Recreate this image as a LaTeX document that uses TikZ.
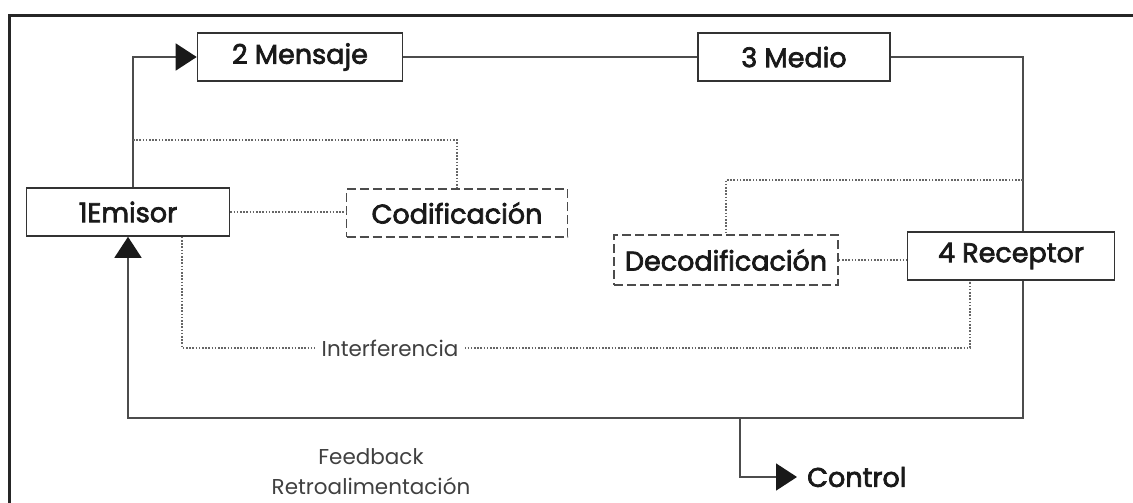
\documentclass[tikz,border=0pt]{standalone}
\usepackage{fontspec}
\setmainfont{Poppins}
\newfontfamily\labelfont{Poppins}[FakeBold=2.6]
\usetikzlibrary{arrows.meta}

\begin{document}
\begin{tikzpicture}[x=1pt,y=-1pt]
\tikzset{box/.style = {draw=black!80, line width=1.6pt, minimum height=48pt, inner sep=0pt, font=\labelfont\fontsize{27}{30}\selectfont, text=black!90}}
\tikzset{dbox/.style = {box, draw=black!70, dash pattern=on 9pt off 4pt}}
\tikzset{edge/.style = {draw=black!70, line width=1.6pt}}
\tikzset{flow/.style = {edge, -{Triangle[length=21pt,width=27pt,color=black!90]}}}
\tikzset{noise/.style = {draw=black!60, line width=1.7pt, dash pattern=on 1.6pt off 1.6pt}}
\tikzset{note/.style = {font=\fontsize{21.5}{30}\selectfont, text=black!75, inner sep=3pt}}
\useasboundingbox (0,0) rectangle (1133,503);
\draw[line width=3pt, black!85] (9,510) |- (1140,16);
\node[box, minimum width=205pt](mensaje) at (300,57) {2 Mensaje};
\node[box, minimum width=192pt](medio) at (794,57) {3 Medio};
\node[box, minimum width=203pt](emisor) at (128,212) {1Emisor};
\node[dbox, minimum width=221pt](codif) at (457,213) {Codificación};
\node[dbox, minimum width=224pt, minimum height=50pt](decodif) at (726,260) {Decodificación};
\node[box, minimum width=207pt](receptor) at (1011,256) {4 Receptor};
\node[note, align=center](fbtext) at (371,472) {Feedback\\Retroalimentación};
\coordinate (n1) at (133,140);
\coordinate (n2) at (1023,180);
\coordinate (i1) at (182,348);
\coordinate (i2) at (970,348);
\coordinate (fb) at (128,418);
\coordinate (ctl) at (740,418);
\node[anchor=west, inner xsep=10pt, font=\labelfont\fontsize{27}{30}\selectfont, text=black!90](control) at (797,477) {Control};
\draw[flow] (emisor.north -| n1) |- (mensaje.west);
\draw[edge] (mensaje) -- (medio);
\draw[edge] (medio.east) -| (receptor.north -| n2);
\draw[flow] (receptor.south -| n2) |- (fb) -- (emisor.south -| fb);
\draw[flow] (ctl) |- (control.west);
\draw[noise] (n1) -| (codif.north);
\draw[noise] (emisor.east) -- (emisor.east -| codif.west);
\draw[noise] (n2) -| (decodif.north);
\draw[noise] (decodif.east) -- (decodif.east -| receptor.west);
\draw[noise] (emisor.south -| i1) -- (i1) -- node[note, fill=white, inner xsep=7pt, pos=0.264]{Interferencia} (i2) -- (receptor.south -| i2);
\end{tikzpicture}
\end{document}
